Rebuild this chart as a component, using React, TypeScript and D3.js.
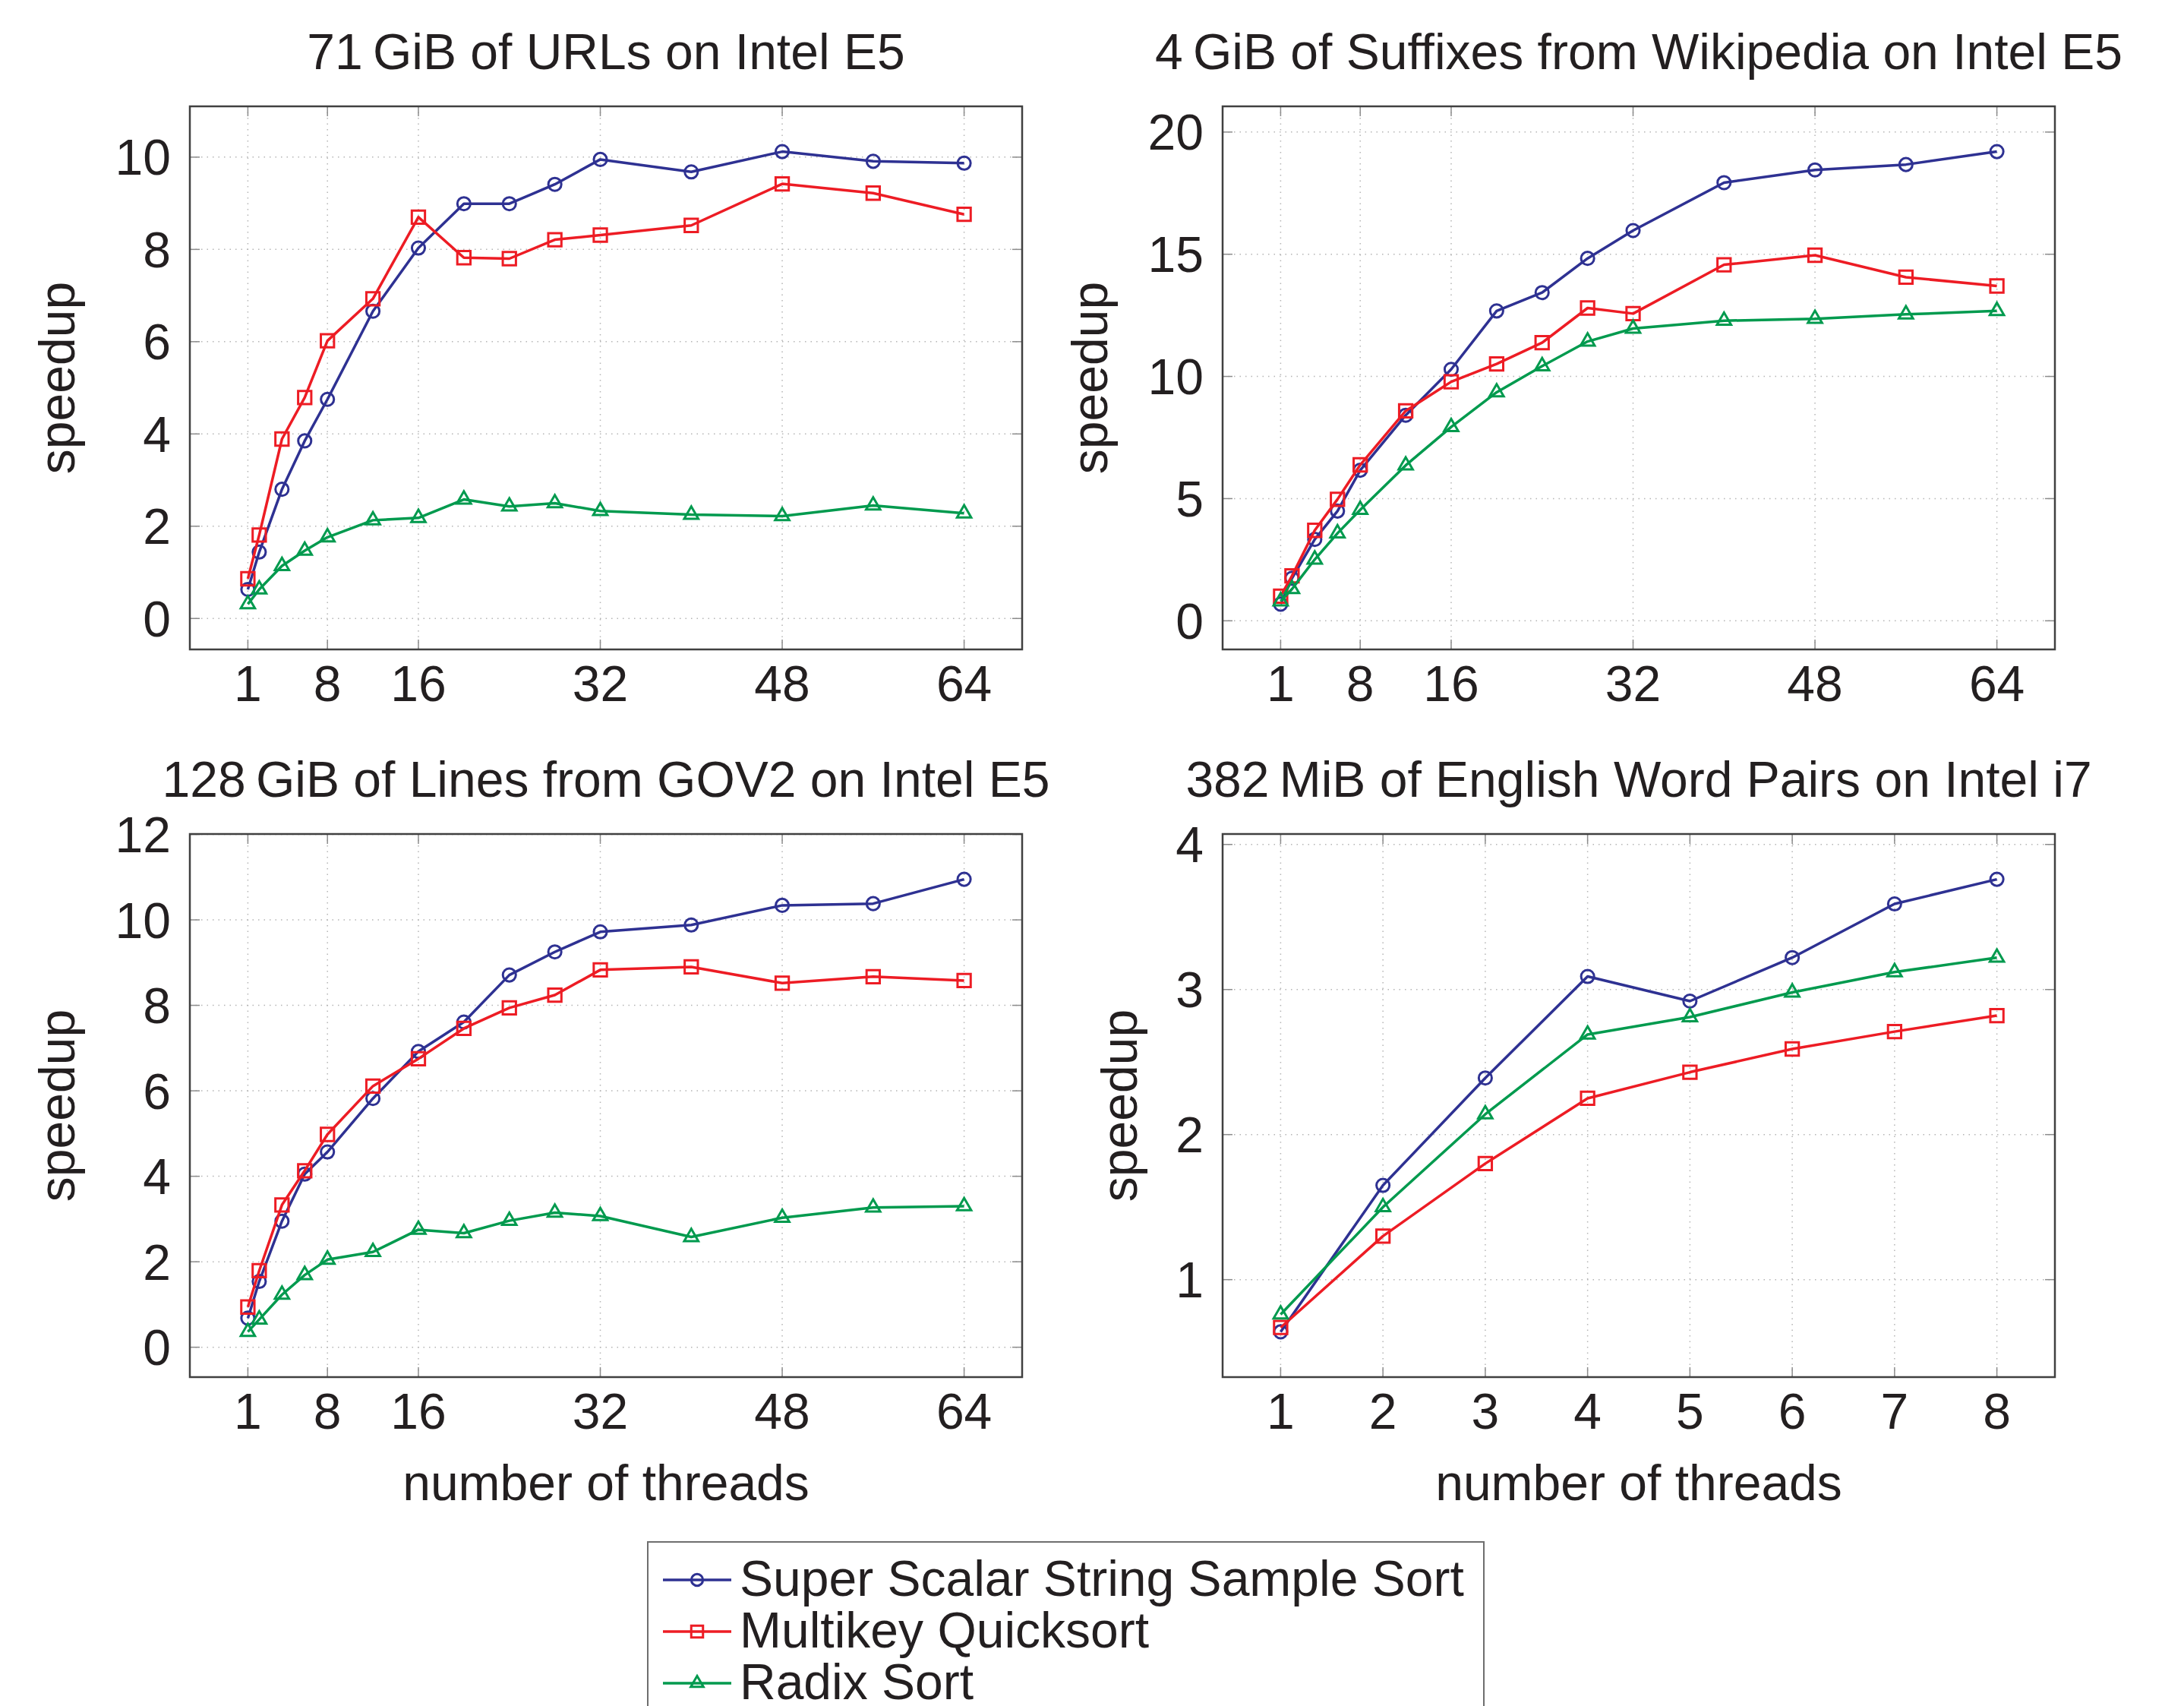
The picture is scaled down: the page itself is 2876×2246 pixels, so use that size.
import React, { useRef, useEffect } from "react";
import * as d3 from "d3";

// thread counts on the two machines
const threadsE5 = [1, 2, 4, 6, 8, 12, 16, 20, 24, 28, 32, 40, 48, 56, 64];
const threadsI7 = [1, 2, 3, 4, 5, 6, 7, 8];
const xTicksE5 = [1, 8, 16, 32, 48, 64];
const xTicksI7 = [1, 2, 3, 4, 5, 6, 7, 8];

// 71 GiB of URLs
const urlsS5 = [0.63, 1.44, 2.8, 3.85, 4.75, 6.66, 8.03, 8.99, 8.99, 9.41, 9.95, 9.68, 10.12, 9.91, 9.87];
const urlsMkqs = [0.86, 1.81, 3.89, 4.79, 6.02, 6.93, 8.7, 7.82, 7.8, 8.21, 8.31, 8.52, 9.42, 9.22, 8.76];
const urlsRadix = [0.31, 0.63, 1.14, 1.47, 1.76, 2.13, 2.18, 2.58, 2.43, 2.5, 2.33, 2.25, 2.22, 2.45, 2.28];

// 4 GiB of suffixes
const suffS5 = [0.68, 1.74, 3.33, 4.49, 6.16, 8.41, 10.29, 12.68, 13.43, 14.83, 15.97, 17.93, 18.45, 18.67, 19.2];
const suffMkqs = [1.01, 1.84, 3.7, 4.97, 6.38, 8.59, 9.78, 10.51, 11.38, 12.8, 12.57, 14.57, 14.96, 14.06, 13.7];
const suffRadix = [0.8, 1.3, 2.51, 3.58, 4.54, 6.36, 7.93, 9.35, 10.42, 11.43, 11.96, 12.28, 12.36, 12.54, 12.68];

// 128 GiB of GOV2 lines
const gov2S5 = [0.68, 1.54, 2.95, 4.05, 4.57, 5.82, 6.92, 7.61, 8.71, 9.25, 9.72, 9.88, 10.34, 10.38, 10.95];
const gov2Mkqs = [0.94, 1.79, 3.33, 4.13, 4.98, 6.11, 6.75, 7.46, 7.94, 8.24, 8.83, 8.9, 8.52, 8.67, 8.58];
const gov2Radix = [0.36, 0.65, 1.23, 1.69, 2.05, 2.23, 2.75, 2.67, 2.96, 3.15, 3.07, 2.58, 3.03, 3.27, 3.3];

// 382 MiB of word pairs on i7
const wordsS5 = [0.64, 1.65, 2.39, 3.09, 2.92, 3.22, 3.59, 3.76];
const wordsMkqs = [0.67, 1.3, 1.8, 2.25, 2.43, 2.59, 2.71, 2.82];
const wordsRadix = [0.76, 1.5, 2.14, 2.69, 2.81, 2.98, 3.12, 3.22];

const seriesNames = ["Super Scalar String Sample Sort", "Multikey Quicksort", "Radix Sort"];
const seriesColours = ["#2e3192", "#ed1c24", "#009a4e"];
const seriesSymbols = [d3.symbolCircle, d3.symbolSquare, d3.symbolTriangle];
const symbolSizes = [230, 300, 150];

const panels = [
    { title: "71\u2009GiB of URLs on Intel E5", x: threadsE5, xTicks: xTicksE5, yTicks: [0, 2, 4, 6, 8, 10], series: [urlsS5, urlsMkqs, urlsRadix], left: 250, top: 140, yLabelOff: 152, xLabel: false },
    { title: "4\u2009GiB of Suffixes from Wikipedia on Intel E5", x: threadsE5, xTicks: xTicksE5, yTicks: [0, 5, 10, 15, 20], series: [suffS5, suffMkqs, suffRadix], left: 1610, top: 140, yLabelOff: 152, xLabel: false },
    { title: "128\u2009GiB of Lines from GOV2 on Intel E5", x: threadsE5, xTicks: xTicksE5, yTicks: [0, 2, 4, 6, 8, 10, 12], series: [gov2S5, gov2Mkqs, gov2Radix], left: 250, top: 1098, yLabelOff: 152, xLabel: true },
    { title: "382\u2009MiB of English Word Pairs on Intel i7", x: threadsI7, xTicks: xTicksI7, yTicks: [1, 2, 3, 4], series: [wordsS5, wordsMkqs, wordsRadix], left: 1610, top: 1098, yLabelOff: 113, xLabel: true },
];

const FONT = "'Liberation Sans', Arial, Helvetica, sans-serif";
const TEXT = "#231f20";

const App = () => {
    const svgRef = useRef(null);

    useEffect(() => {
        if (!svgRef.current) return;
        const svg = d3.select(svgRef.current);
        svg.selectAll("*").remove();

        const width = 1096;
        const height = 715;

        panels.forEach(p => {
            const g = svg.append("g").attr("transform", `translate(${p.left},${p.top})`);

            const xMin = d3.min(p.x), xMax = d3.max(p.x);
            const xPad = (xMax - xMin) * 0.081;
            const allY = p.series.flat();
            const yMin = d3.min(allY), yMax = d3.max(allY);
            const yPad = (yMax - yMin) * 0.1;

            const x = d3.scaleLinear().domain([xMin - xPad, xMax + xPad]).range([0, width]);
            const y = d3.scaleLinear().domain([yMin - yPad, yMax + yPad]).range([height, 0]);

            // grid
            g.append("g").selectAll("line").data(p.xTicks).enter().append("line")
                .attr("x1", d => x(d)).attr("x2", d => x(d))
                .attr("y1", 0).attr("y2", height)
                .attr("stroke", "#b5b5b5").attr("stroke-width", 1.5)
                .attr("stroke-dasharray", "1.5,6");
            g.append("g").selectAll("line").data(p.yTicks).enter().append("line")
                .attr("x1", 0).attr("x2", width)
                .attr("y1", d => y(d)).attr("y2", d => y(d))
                .attr("stroke", "#b5b5b5").attr("stroke-width", 1.5)
                .attr("stroke-dasharray", "1.5,6");

            // inward ticks on every side
            const tickLen = 13;
            const ticks = g.append("g").attr("stroke", "#8c8c8c").attr("stroke-width", 1.5);
            p.xTicks.forEach(t => {
                ticks.append("line").attr("x1", x(t)).attr("x2", x(t)).attr("y1", height).attr("y2", height - tickLen);
                ticks.append("line").attr("x1", x(t)).attr("x2", x(t)).attr("y1", 0).attr("y2", tickLen);
            });
            p.yTicks.forEach(t => {
                ticks.append("line").attr("x1", 0).attr("x2", tickLen).attr("y1", y(t)).attr("y2", y(t));
                ticks.append("line").attr("x1", width).attr("x2", width - tickLen).attr("y1", y(t)).attr("y2", y(t));
            });

            // frame
            g.append("rect")
                .attr("x", 0).attr("y", 0).attr("width", width).attr("height", height)
                .attr("fill", "none").attr("stroke", "#404040").attr("stroke-width", 2.5);

            // series
            p.series.forEach((vals, i) => {
                const pts = vals.map((v, j) => ({ key: p.x[j], value: v }));
                const line = d3.line().x(d => x(d.key)).y(d => y(d.value));
                g.append("path")
                    .datum(pts)
                    .attr("fill", "none")
                    .attr("stroke", seriesColours[i])
                    .attr("stroke-width", 3.5)
                    .attr("stroke-linejoin", "round")
                    .attr("d", line);
                const sym = d3.symbol().type(seriesSymbols[i]).size(symbolSizes[i]);
                g.append("g").selectAll("path").data(pts).enter().append("path")
                    .attr("transform", d => `translate(${x(d.key)},${y(d.value)})`)
                    .attr("d", sym())
                    .attr("fill", "none")
                    .attr("stroke", seriesColours[i])
                    .attr("stroke-width", 3);
            });

            // tick labels
            g.append("g").selectAll("text").data(p.xTicks).enter().append("text")
                .attr("x", d => x(d)).attr("y", height + 68)
                .attr("text-anchor", "middle")
                .style("font-family", FONT).style("font-size", "66px").style("fill", TEXT)
                .text(d => d);
            g.append("g").selectAll("text").data(p.yTicks).enter().append("text")
                .attr("x", -25).attr("y", d => y(d) + 23.5)
                .attr("text-anchor", "end")
                .style("font-family", FONT).style("font-size", "66px").style("fill", TEXT)
                .text(d => d);

            // title
            g.append("text")
                .attr("x", width / 2).attr("y", -49)
                .attr("text-anchor", "middle")
                .style("font-family", FONT).style("font-size", "66px").style("fill", TEXT)
                .text(p.title);

            // axis labels
            g.append("text")
                .attr("transform", `translate(${-p.yLabelOff},${height / 2}) rotate(-90)`)
                .attr("text-anchor", "middle")
                .style("font-family", FONT).style("font-size", "66px").style("fill", TEXT)
                .text("speedup");
            if (p.xLabel) {
                g.append("text")
                    .attr("x", width / 2).attr("y", height + 162)
                    .attr("text-anchor", "middle")
                    .style("font-family", FONT).style("font-size", "66px").style("fill", TEXT)
                    .text("number of threads");
            }
        });

        // legend
        const legend = svg.append("g").attr("transform", "translate(853,2030)");
        legend.append("rect")
            .attr("x", 0).attr("y", 0).attr("width", 1101).attr("height", 260)
            .attr("fill", "white").attr("stroke", "#6e6e6e").attr("stroke-width", 2);
        const rows = legend.selectAll(".legend").data(seriesNames).enter().append("g")
            .attr("class", "legend")
            .attr("transform", (d, i) => `translate(0,${50 + i * 68})`);
        rows.append("line")
            .attr("x1", 20).attr("x2", 110).attr("y1", 0).attr("y2", 0)
            .attr("stroke", (d, i) => seriesColours[i]).attr("stroke-width", 3.5);
        rows.append("path")
            .attr("transform", "translate(65,0)")
            .attr("d", (d, i) => d3.symbol().type(seriesSymbols[i]).size(symbolSizes[i] * 0.8)())
            .attr("fill", "none")
            .attr("stroke", (d, i) => seriesColours[i]).attr("stroke-width", 3);
        rows.append("text")
            .attr("x", 121).attr("y", 21)
            .style("font-family", FONT).style("font-size", "66px").style("fill", TEXT)
            .text(d => d);
    }, []);

    return (
        <svg
            ref={svgRef}
            width={2876}
            height={2246}
            style={{ position: "absolute", left: 0, top: 0, background: "white" }}
        ></svg>
    );
};

export default App;
